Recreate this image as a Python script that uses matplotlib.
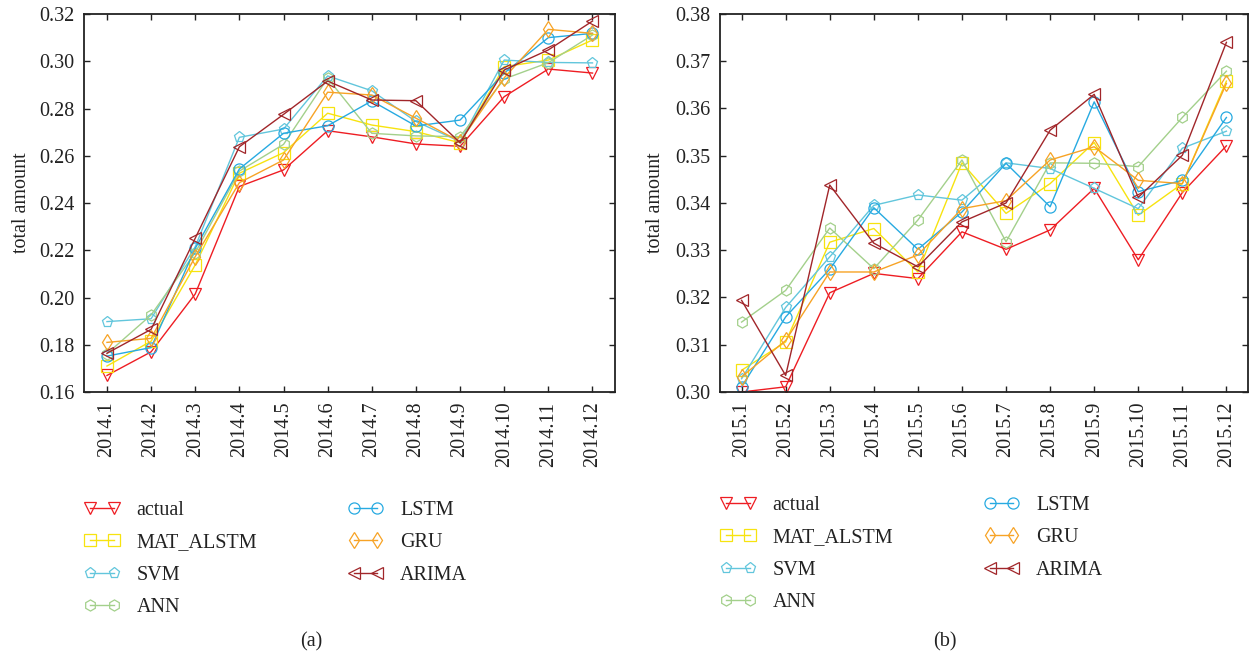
import matplotlib
matplotlib.use("Agg")
import matplotlib.pyplot as plt
import numpy as np

plt.rcParams["font.family"] = ["Liberation Serif", "DejaVu Serif"]

months_a = ["2014.%d" % m for m in range(1, 13)]
months_b = ["2015.%d" % m for m in range(1, 13)]

names = ["actual", "MAT_ALSTM", "SVM", "ANN", "LSTM", "GRU", "ARIMA"]
colors = ["#EE1D23", "#F7E30F", "#62C6DC", "#A3D08B", "#27AAE1", "#F7A325", "#A1262A"]
markers = ["v", "s", "p", "h", "o", "d", "<"]

# (a) 2014
actual_a = [0.167, 0.177, 0.2015, 0.247, 0.254, 0.2706, 0.268, 0.265, 0.264, 0.285, 0.2967, 0.295]
mat_a = [0.171, 0.1815, 0.2138, 0.2526, 0.2613, 0.278, 0.273, 0.2702, 0.2655, 0.2977, 0.3005, 0.309]
svm_a = [0.1898, 0.191, 0.2215, 0.2678, 0.2713, 0.2938, 0.2875, 0.2745, 0.266, 0.3005, 0.2995, 0.2993]
ann_a = [0.1762, 0.1926, 0.219, 0.2535, 0.2648, 0.2928, 0.2695, 0.2684, 0.2681, 0.2925, 0.2994, 0.3111]
lstm_a = [0.1752, 0.1788, 0.2208, 0.2544, 0.2695, 0.2727, 0.2832, 0.2726, 0.2751, 0.295, 0.310, 0.3118]
gru_a = [0.181, 0.1827, 0.2173, 0.2486, 0.2582, 0.2869, 0.2857, 0.2759, 0.266, 0.293, 0.3135, 0.3118]
arima_a = [0.1764, 0.1865, 0.2251, 0.2638, 0.2775, 0.2916, 0.2836, 0.2833, 0.2655, 0.2963, 0.3048, 0.317]

# (b) 2015
actual_b = [0.3000, 0.3011, 0.321, 0.3251, 0.324, 0.3339, 0.3302, 0.3343, 0.3431, 0.328, 0.3422, 0.3521]
mat_b = [0.3046, 0.3106, 0.3317, 0.3346, 0.3254, 0.3485, 0.3378, 0.3441, 0.3528, 0.3374, 0.3441, 0.3658]
svm_b = [0.3028, 0.3179, 0.3286, 0.3395, 0.3417, 0.3406, 0.3485, 0.3473, 0.3431, 0.3388, 0.3516, 0.3552]
ann_b = [0.3148, 0.3215, 0.3347, 0.3261, 0.3364, 0.3491, 0.3318, 0.3485, 0.3484, 0.3477, 0.3581, 0.3679]
lstm_b = [0.3011, 0.3159, 0.3260, 0.3390, 0.3302, 0.3381, 0.3484, 0.3392, 0.3614, 0.3424, 0.3448, 0.3581]
gru_b = [0.3032, 0.3109, 0.3254, 0.3254, 0.3290, 0.3388, 0.3405, 0.3491, 0.3519, 0.3448, 0.3441, 0.3653]
arima_b = [0.3194, 0.3035, 0.3438, 0.3315, 0.3265, 0.3360, 0.3400, 0.3554, 0.3630, 0.3412, 0.3501, 0.3740]

FS = 14.5
W, H = 1253, 657


def draw(ax, months, series, ylim, yticks, xlim):
    x = np.arange(len(months))
    for vals, name, c, m in zip(series, names, colors, markers):
        ax.plot(x, vals, color=c, lw=1.0, marker=m, markersize=8,
                markerfacecolor="none", markeredgecolor=c, markeredgewidth=0.9,
                label=name)
    ax.set_xlim(*xlim)
    ax.set_ylim(*ylim)
    ax.set_xticks(x)
    ax.set_xticklabels(months, rotation=90)
    ax.set_yticks(yticks)
    ax.set_yticklabels(["%.2f" % v for v in yticks])
    ax.tick_params(direction="in", top=True, right=True, length=4, width=1,
                   pad=7, labelsize=FS, colors="#222222")
    for s in ax.spines.values():
        s.set_linewidth(1.3)
        s.set_color("#222222")
    ax.set_ylabel("total amount", fontsize=FS, color="#222222")


def main() -> None:
    fig = plt.figure(figsize=(W / 100, H / 100), dpi=100)
    ax1 = fig.add_axes([84 / W, 1 - 392 / H, 531 / W, 378 / H])
    ax2 = fig.add_axes([720 / W, 1 - 392 / H, 528 / W, 378 / H])

    draw(ax1, months_a, [actual_a, mat_a, svm_a, ann_a, lstm_a, gru_a, arima_a],
         (0.16, 0.32), np.arange(0.16, 0.3201, 0.02), (-0.52, 11.51))
    draw(ax2, months_b, [actual_b, mat_b, svm_b, ann_b, lstm_b, gru_b, arima_b],
         (0.30, 0.38), np.arange(0.30, 0.3801, 0.01), (-0.49, 11.49))
    ax1.yaxis.set_label_coords((31 - 84) / 531, 0.5)
    ax2.yaxis.set_label_coords((665 - 720) / 528, 0.5)

    for ax, x0, y0 in [(ax1, 84, 501), (ax2, 720, 496)]:
        leg = ax.legend(loc="upper left", bbox_to_anchor=(x0 / W, 1 - y0 / H),
                        bbox_transform=fig.transFigure, ncol=2, frameon=False,
                        fontsize=FS, numpoints=2, handlelength=1.77,
                        handletextpad=0.83, columnspacing=4.5, labelspacing=0.66,
                        borderpad=0, borderaxespad=0)
        for t in leg.get_texts():
            t.set_color("#222222")

    fig.text(311 / W, 1 - 642 / H, "(a)", ha="center", va="center", fontsize=FS, color="#222222")
    fig.text(945 / W, 1 - 642 / H, "(b)", ha="center", va="center", fontsize=FS, color="#222222")

    fig.savefig("out.png", dpi=100)
    plt.close(fig)


if __name__ == "__main__":
    main()
